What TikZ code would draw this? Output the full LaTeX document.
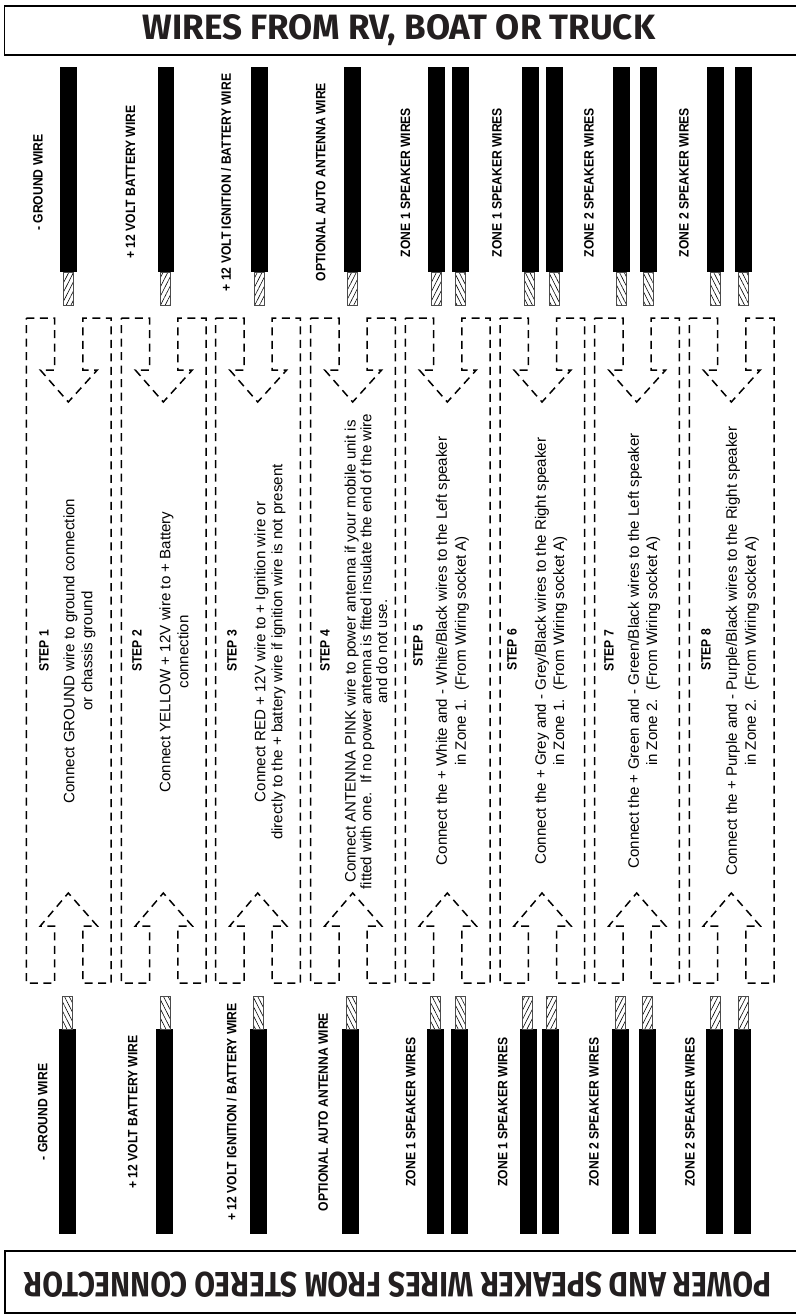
\documentclass[tikz,border=0pt]{standalone}
\usepackage{fontspec}
\usepackage{graphicx}
\usetikzlibrary{patterns.meta}
\setmainfont{Liberation Sans}
\newfontfamily\labelfont[FakeStretch=0.9]{Liberation Sans}
\newfontfamily\titlefont{Fira Sans}
\definecolor{titleink}{HTML}{231F20}
\tikzset{
	titlebox/.style={draw=black, line width=1.3pt},
	titletext/.style={inner sep=0pt, text=titleink, font=\titlefont\bfseries},
	wirelabel/.style={rotate=90, inner sep=0pt, font=\labelfont\bfseries\fontsize{13.5}{15}\selectfont},
	steptext/.style={rotate=90, inner sep=0pt, align=center, font=\fontsize{15.1}{#1}\selectfont},
	steptext/.default=18.2,
	dashbox/.style={draw=black, line width=1.5pt, dash pattern=on 8pt off 5.5pt},
	stubup/.style={draw=black!70, line width=0.6pt, pattern={Lines[angle=63, distance=4.2pt, line width=0.6pt]}},
	stubdown/.style={draw=black!70, line width=0.6pt, pattern={Lines[angle=117, distance=4.2pt, line width=0.6pt]}}
}
\begin{document}
\begin{tikzpicture}[x=1pt, y=-1pt]
	\useasboundingbox (0,0) rectangle (795,1314);
	
	% Title boxes
	\draw[titlebox] (4.5,6) rectangle (800,55);
	\draw[titlebox] (5,1251) rectangle (800,1313);
	\node[titletext] (toptitle) at (399,30) {\resizebox{512pt}{25pt}{WIRES FROM RV, BOAT OR TRUCK}};
	\node[titletext, rotate=180] (bottomtitle) at (398,1285) {\resizebox{747pt}{25pt}{POWER AND SPEAKER WIRES FROM STEREO CONNECTOR}};
	
	% Wires at the top
	\foreach \xw/\xs/\hatch in {60/63.5/stubup, 157.5/160/stubup, 251/254.5/stubup, 343.7/347/stubup,
		427.7/431/stubup, 452.3/455.7/stubdown, 521.7/524.7/stubdown, 545.7/549.3/stubdown,
		612.7/616.5/stubdown, 640/643.3/stubdown, 706.7/710.7/stubdown, 735/738.3/stubdown} {
		\fill[black] (\xw,67) rectangle ++(16.8,205);
		\draw[\hatch] (\xs,272) rectangle ++(10,33);
	}
	
	% Wires at the bottom
	\foreach \xw/\xs/\hatch in {59/62.3/stubdown, 156/160/stubdown, 250/253.5/stubdown, 342.3/346.3/stubdown,
		426.7/430.3/stubdown, 451/455.3/stubdown, 520.3/522/stubup, 542.3/546.3/stubup,
		611.7/615.3/stubup, 638.7/642.3/stubup, 705.7/710/stubup, 734/738/stubup} {
		\fill[black] (\xw,1029.3) rectangle ++(16.8,204.7);
		\draw[\hatch] (\xs,996.5) rectangle ++(10,32.8);
	}
	
	% Dashed double arrows
	\foreach \xl in {26.3, 121.3, 215.7, 310.7, 405.3, 500, 594.7, 689.3} {
		\draw[dashbox, xshift=\xl pt] (0,318) -- (28.3,318) -- (28.3,370) -- (14,370) -- (42,402)
			-- (71,370) -- (56.5,370) -- (56.5,318) -- (84.7,318) -- (84.7,983) -- (56.5,983)
			-- (56.5,926) -- (71,926) -- (42,893) -- (14,926) -- (28.3,926) -- (28.3,983) -- (0,983) -- cycle;
	}
	
	% Labels at the top
	\node[wirelabel] (topground) at (38,182.5) {- GROUND WIRE};
	\node[wirelabel] (topbattery) at (130.5,182) {+ 12 VOLT BATTERY WIRE};
	\node[wirelabel] (topignition) at (226,182.5) {+ 12 VOLT IGNITION / BATTERY WIRE};
	\node[wirelabel] (topantenna) at (320.7,182) {OPTIONAL AUTO ANTENNA WIRE};
	\node[wirelabel] (topzonea) at (405.5,182.5) {ZONE 1 SPEAKER WIRES};
	\node[wirelabel] (topzoneb) at (497,182.5) {ZONE 1 SPEAKER WIRES};
	\node[wirelabel] (topzonec) at (589,182.5) {ZONE 2 SPEAKER WIRES};
	\node[wirelabel] (topzoned) at (684,182.5) {ZONE 2 SPEAKER WIRES};
	
	% Labels at the bottom
	\node[wirelabel] (botground) at (42.7,1112) {- GROUND WIRE};
	\node[wirelabel] (botbattery) at (132.7,1112) {+ 12 VOLT BATTERY WIRE};
	\node[wirelabel] (botignition) at (231.7,1112) {+ 12 VOLT IGNITION / BATTERY WIRE};
	\node[wirelabel] (botantenna) at (323.3,1112) {OPTIONAL AUTO ANTENNA WIRE};
	\node[wirelabel] (botzonea) at (410.7,1112) {ZONE 1 SPEAKER WIRES};
	\node[wirelabel] (botzoneb) at (502.7,1112) {ZONE 1 SPEAKER WIRES};
	\node[wirelabel] (botzonec) at (594,1112) {ZONE 2 SPEAKER WIRES};
	\node[wirelabel] (botzoned) at (690,1112) {ZONE 2 SPEAKER WIRES};
	
	% Step headings
	\node[wirelabel] (stepa) at (44,651) {STEP 1};
	\node[wirelabel] (stepb) at (137,651) {STEP 2};
	\node[wirelabel] (stepc) at (232,651) {STEP 3};
	\node[wirelabel] (stepd) at (325,651) {STEP 4};
	\node[wirelabel] (stepe) at (418,646) {STEP 5};
	\node[wirelabel] (stepf) at (512,650) {STEP 6};
	\node[wirelabel] (stepg) at (609,651) {STEP 7};
	\node[wirelabel] (steph) at (706,650) {STEP 8};
	
	% Step instructions
	\node[steptext=18] (texta) at (79.5,651) {Connect GROUND wire to ground connection\\or chassis ground};
	\node[steptext] (textb) at (174,652) {Connect YELLOW + 12V wire to + Battery\\connection};
	\node[steptext=17] (textc) at (270,652) {Connect RED + 12V wire to + Ignition wire or\\directly to the + battery wire if ignition wire is not present};
	\node[steptext=15.8] (textd) at (366,651.5) {Connect ANTENNA PINK wire to power antenna if your mobile unit is\\fitted with one.\ \ If no power antenna is fitted insulate the end of the wire\\and do not use.};
	\node[steptext=19] (texte) at (452.5,651) {Connect the + White and - White/Black wires to the Left speaker\\in Zone 1.\ \ (From Wiring socket A)};
	\node[steptext] (textf) at (551,651) {Connect the + Grey and - Grey/Black wires to the Right speaker\\in Zone 1.\ \ (From Wiring socket A)};
	\node[steptext] (textg) at (644,651) {Connect the + Green and - Green/Black wires to the Left speaker\\in Zone 2.\ \ (From Wiring socket A)};
	\node[steptext=19] (texth) at (742.5,651) {Connect the + Purple and - Purple/Black wires to the Right speaker\\in Zone 2.\ \ (From Wiring socket A)};
	
\end{tikzpicture}
\end{document}
